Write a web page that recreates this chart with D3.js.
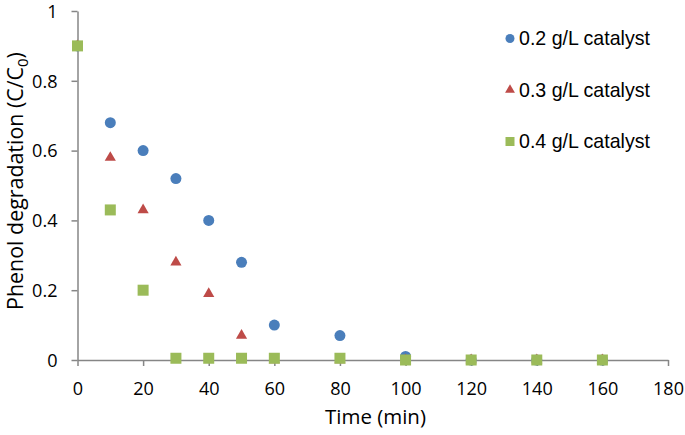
<!DOCTYPE html>
<html><head><meta charset="utf-8">
<script src="https://cdn.jsdelivr.net/npm/d3@7"></script>
<style>body{margin:0;background:#fff}svg{display:block}</style>
</head><body>
<svg id="c" width="685" height="435"></svg>
<script>
const seriesNames = ["0.2 g/L catalyst", "0.3 g/L catalyst", "0.4 g/L catalyst"];
const timeBlue  = [0, 10, 20, 30, 40, 50, 60, 80, 100, 120, 140, 160];
const valBlue   = [0.9, 0.68, 0.60, 0.52, 0.40, 0.28, 0.10, 0.07, 0.01, 0, 0, 0];
const timeRed   = [0, 10, 20, 30, 40, 50, 60, 80, 100, 120, 140, 160];
const valRed    = [0.9, 0.58, 0.43, 0.28, 0.19, 0.07, 0, 0, 0, 0, 0, 0];
const timeGreen = [0, 10, 20, 30, 40, 50, 60, 80, 100, 120, 140, 160];
const valGreen  = [0.9, 0.43, 0.20, 0.005, 0.005, 0.005, 0.005, 0.005, 0, 0, 0, 0];
const xTicks = [0, 20, 40, 60, 80, 100, 120, 140, 160, 180];
const yTicks = [0, 0.2, 0.4, 0.6, 0.8, 1];
const colors = ["#4A7EBB", "#BE4B48", "#9BBB59"];

const svg = d3.select("#c");
const x = d3.scaleLinear().domain([0, 180]).range([77.5, 668]);
const y = d3.scaleLinear().domain([0, 1]).range([360, 11]);
const axisColor = "#868686";
const font = "'Open Sans', sans-serif";

// scale a text's font-size so that its rendered width matches a target width
function fit(sel, target) {
  const node = sel.node();
  const base = parseFloat(sel.style("font-size"));
  const w = node.getComputedTextLength();
  sel.style("font-size", (base * target / w) + "px");
}

const xAxis = svg.append("g").attr("transform", "translate(0,360)")
  .call(d3.axisBottom(x).tickValues(xTicks).tickSize(6).tickSizeOuter(0).tickFormat(d3.format("d")));
const yAxis = svg.append("g").attr("transform", "translate(77.5,0)")
  .call(d3.axisLeft(y).tickValues(yTicks).tickSize(6).tickSizeOuter(0).tickFormat(d => d === 0 || d === 1 ? d3.format("d")(d) : d3.format(".1f")(d)));
[xAxis, yAxis].forEach(a => {
  a.selectAll("path.domain").attr("stroke", axisColor).attr("stroke-width", 1.5);
  a.selectAll(".tick line").attr("stroke", axisColor).attr("stroke-width", 1.5);
  a.selectAll(".tick text").attr("fill", "#000").style("font-family", font).style("font-size", "18px");
});
xAxis.selectAll(".tick text").attr("dy", "0.35em").attr("y", 29);
yAxis.selectAll(".tick text").attr("x", -20).attr("dy", "0.35em");
// match measured reference width of "100"
const xt100 = xAxis.selectAll(".tick text").filter(d => d === 100);
const w100 = xt100.node().getComputedTextLength();
const tickSize = 18 * 31 / w100;
xAxis.selectAll(".tick text").style("font-size", tickSize + "px");
yAxis.selectAll(".tick text").style("font-size", tickSize + "px");

// axis titles
const xt = svg.append("text").attr("x", 375.5).attr("y", 424).attr("text-anchor", "middle")
  .style("font-family", font).style("font-size", "20px").text("Time (min)");
fit(xt, 101);
const yt = svg.append("text").attr("transform", "translate(23,181) rotate(-90)").attr("text-anchor", "middle")
  .style("font-family", font).style("font-size", "20px");
yt.append("tspan").text("Phenol degradation (C/C");
yt.append("tspan").attr("dy", 5).style("font-size", "0.7em").text("0");
yt.append("tspan").attr("dy", -5).text(")");
fit(yt, 258);

const tri = d3.symbol().type(d3.symbolTriangle);
function drawSeries(times, vals, i) {
  const g = svg.append("g");
  const pts = times.map((t, k) => [t, vals[k]]);
  if (i === 0) {
    g.selectAll("circle").data(pts).join("circle")
      .attr("cx", d => x(d[0])).attr("cy", d => y(d[1])).attr("r", 5.5).attr("fill", colors[0]);
  } else if (i === 1) {
    g.selectAll("path").data(pts).join("path")
      .attr("d", tri.size(54)())
      .attr("transform", d => `translate(${x(d[0])},${y(d[1])})`).attr("fill", colors[1]);
  } else {
    g.selectAll("rect").data(pts).join("rect")
      .attr("x", d => x(d[0]) - 5.5).attr("y", d => y(d[1]) - 5.5)
      .attr("width", 11).attr("height", 11).attr("fill", colors[2]);
  }
}
drawSeries(timeBlue, valBlue, 0);
drawSeries(timeRed, valRed, 1);
drawSeries(timeGreen, valGreen, 2);

// legend
const legY = [38.5, 90, 141.5];
const leg = svg.append("g");
seriesNames.forEach((name, i) => {
  const cy = legY[i];
  if (i === 0) leg.append("circle").attr("cx", 510).attr("cy", cy).attr("r", 4.5).attr("fill", colors[0]);
  else if (i === 1) leg.append("path").attr("d", tri.size(42)()).attr("transform", `translate(510,${cy})`).attr("fill", colors[1]);
  else leg.append("rect").attr("x", 505.5).attr("y", cy - 4.5).attr("width", 9).attr("height", 9).attr("fill", colors[2]);
  const t = leg.append("text").attr("x", 519).attr("y", cy).attr("dy", "0.35em")
    .style("font-family", "'Liberation Sans', Arial, sans-serif").style("font-size", "17px").text(name);
  fit(t, 131);
});
</script>
</body></html>
